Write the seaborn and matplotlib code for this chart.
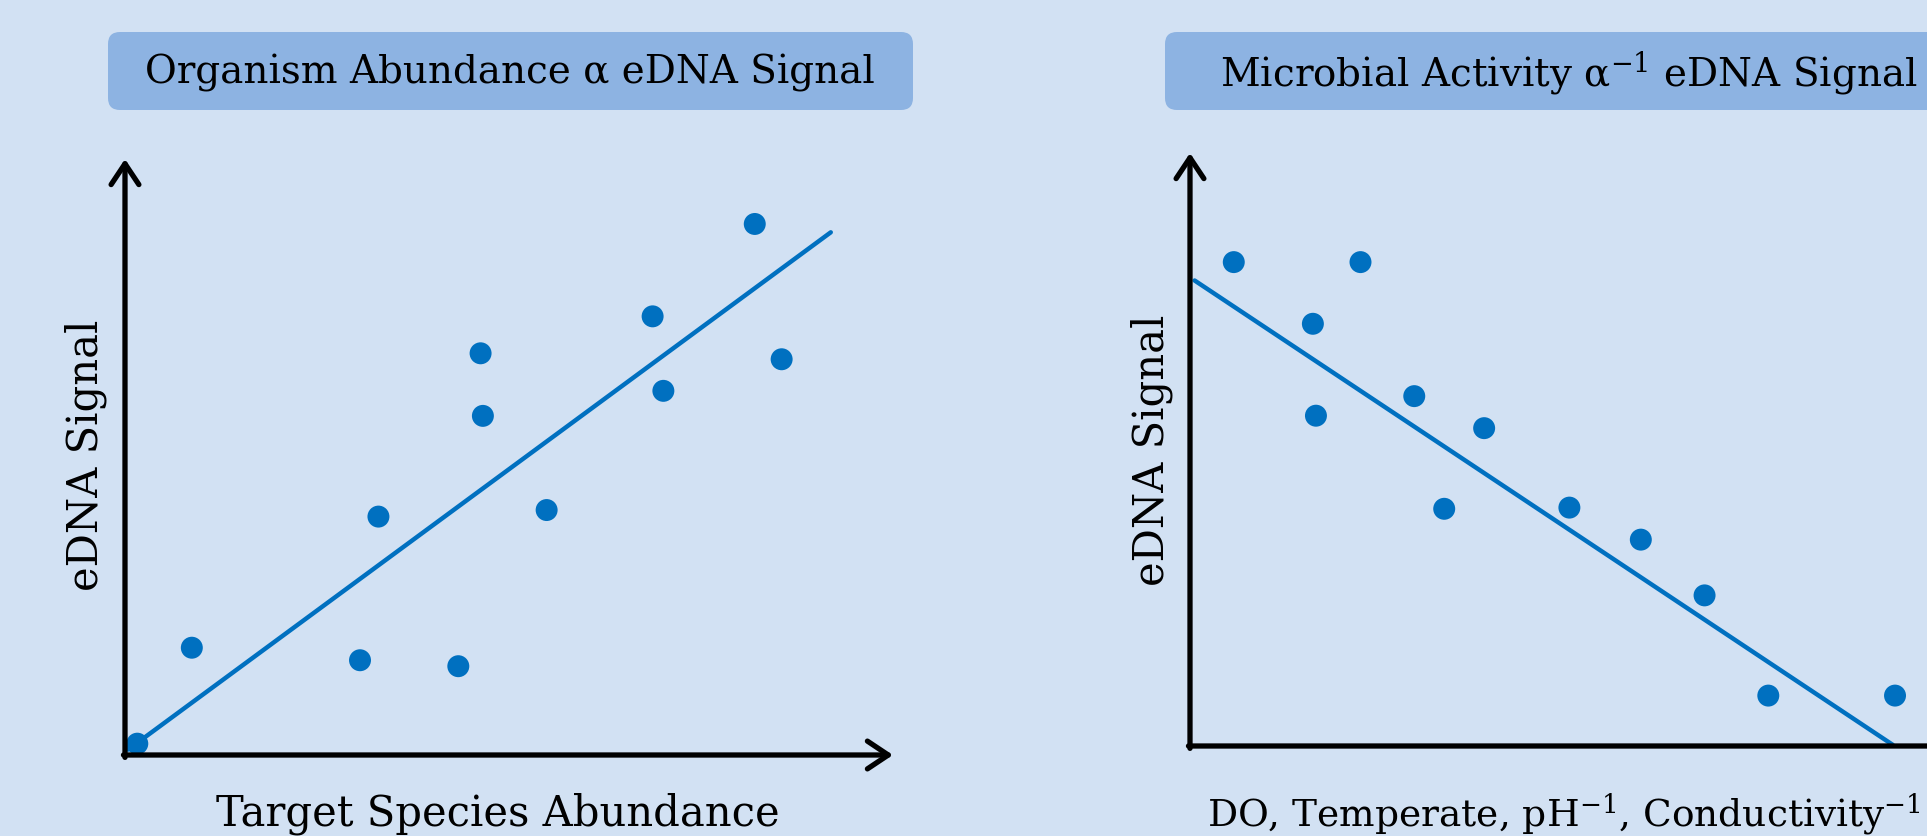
import matplotlib.pyplot as plt
import seaborn as sns
import pandas as pd
from matplotlib.patches import FancyBboxPatch

# left panel: abundance vs signal
abund_x = [1.6, 8.7, 30.6, 43.4, 33.0, 46.3, 46.6, 54.9, 68.7, 70.1, 82.0, 85.5]
abund_y = [1.9, 18.0, 15.9, 14.9, 40.0, 67.4, 56.9, 41.1, 73.6, 61.1, 89.1, 66.4]
abund_trend_x = [0.4, 91.9]
abund_trend_y = [0.9, 87.7]

# right panel: microbial activity vs signal
micro_x = [5.7, 22.2, 16.0, 16.4, 29.2, 38.3, 33.1, 49.4, 58.7, 67.0, 75.3, 91.8]
micro_y = [81.6, 81.6, 71.2, 55.7, 59.0, 53.6, 40.0, 40.2, 34.8, 25.4, 8.5, 8.5]
micro_trend_x = [0.6, 91.5]
micro_trend_y = [78.5, 0.2]

titles = ["Organism Abundance α eDNA Signal", "Microbial Activity α$^{-1}$ eDNA Signal"]
xlabels = ["Target Species Abundance", "DO, Temperate, pH$^{-1}$, Conductivity$^{-1}$"]
ylabel = "eDNA Signal"

bg = '#d2e1f3'
box_col = '#8db3e2'
blue = '#0070c0'

sns.set_style('white')
plt.rcParams['font.family'] = ['DejaVu Serif']
plt.rcParams['mathtext.fontset'] = 'dejavuserif'
plt.rcParams['text.color'] = 'black'

W, H = 1927, 837
fig = plt.figure(figsize=(W / 100, H / 100), dpi=100, facecolor=bg)

# background layer in pixel coords for title boxes and labels
over = fig.add_axes([0, 0, 1, 1])
over.set_xlim(0, W)
over.set_ylim(H, 0)
over.axis('off')


def px_axes(left, top, right, bottom):
    return fig.add_axes([left / W, 1 - bottom / H, (right - left) / W, (bottom - top) / H])


ax1 = px_axes(125, 160, 893, 756)
ax2 = px_axes(1190, 154, 1958, 747)

panels = [
    (ax1, abund_x, abund_y, abund_trend_x, abund_trend_y),
    (ax2, micro_x, micro_y, micro_trend_x, micro_trend_y),
]
for ax, xs, ys, tx, ty in panels:
    ax.set_xlim(0, 100)
    ax.set_ylim(0, 100)
    ax.axis('off')
    df = pd.DataFrame({'x': xs, 'y': ys})
    sns.lineplot(x=tx, y=ty, ax=ax, color=blue, linewidth=3.2, sort=False)
    sns.scatterplot(data=df, x='x', y='y', ax=ax, color=blue, s=250,
                    edgecolor='none', clip_on=False, zorder=3)
    arrow = dict(arrowstyle='->,head_length=0.6,head_width=0.4', lw=3.8,
                 color='black', shrinkA=0, shrinkB=0, mutation_scale=25)
    ax.annotate('', xy=(0, 1), xytext=(0, -0.004), xycoords='axes fraction',
                arrowprops=arrow, annotation_clip=False)
    ax.annotate('', xy=(1, 0), xytext=(-0.002, 0), xycoords='axes fraction',
                arrowprops=arrow, annotation_clip=False)

# title boxes
for x0, w in [(108, 805), (1165, 800)]:
    over.add_patch(FancyBboxPatch((x0, 33), w, 78, boxstyle='round,pad=0,rounding_size=12',
                                  facecolor=box_col, edgecolor='none'))
over.text(510, 73, titles[0], fontsize=28, ha='center', va='center')
over.text(1220, 73, titles[1], fontsize=28, ha='left', va='center')

over.text(86, 455, ylabel, fontsize=30, rotation=90, ha='center', va='center')
over.text(1152, 450, ylabel, fontsize=30, rotation=90, ha='center', va='center')

over.text(498, 826, xlabels[0], fontsize=30, ha='center', va='baseline')
over.text(1207, 826, xlabels[1], fontsize=27, ha='left', va='baseline')

fig.savefig('out.png', dpi=100, facecolor=bg)
